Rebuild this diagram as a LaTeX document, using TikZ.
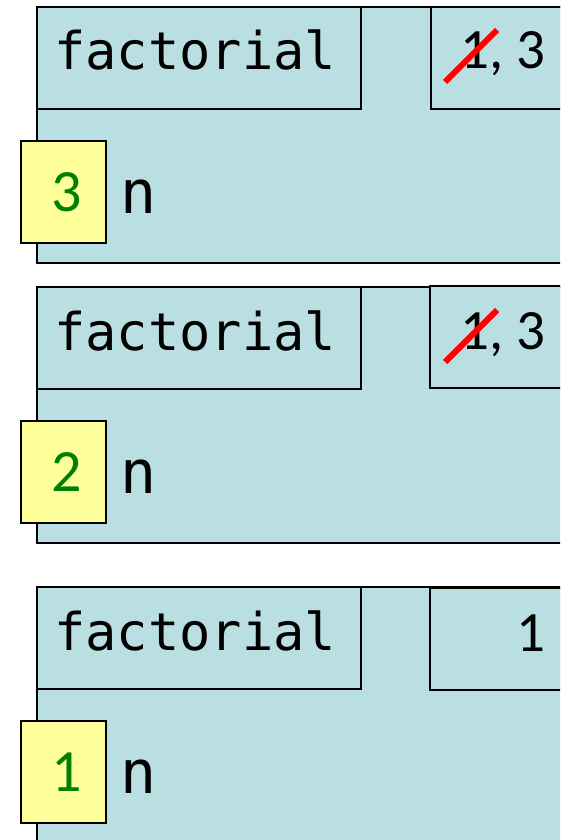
\documentclass[tikz,border=0pt]{standalone}
\usepackage{fontspec}
\newfontfamily\codefont{DejaVu Sans Mono}
\newfontfamily\numfont{Carlito}
\definecolor{framebg}{RGB}{186,223,227}
\definecolor{argbg}{RGB}{255,255,153}
\definecolor{argfg}{RGB}{0,128,0}
\tikzset{
  boxline/.style={draw=black, line width=1.8pt, rectangle, inner sep=0pt, anchor=north west},
  stackframe/.style={boxline, fill=framebg, minimum width=600pt, minimum height=256pt},
  namebox/.style={boxline, fill=framebg, minimum width=324pt, minimum height=102pt},
  valbox/.style={boxline, fill=framebg, minimum width=200pt, minimum height=102pt},
  argbox/.style={boxline, fill=argbg, minimum width=85pt, minimum height=102pt},
  fname/.style={inner sep=0pt, anchor=base west, font=\codefont\fontsize{52}{52}\selectfont},
  varname/.style={inner sep=0pt, anchor=base west, font=\codefont\fontsize{60}{60}\selectfont},
  argval/.style={inner sep=0pt, anchor=base, text=argfg, font=\numfont\fontsize{60}{60}\selectfont},
  retval/.style={inner sep=0pt, anchor=base east, font=\numfont\fontsize{57}{57}\selectfont},
  strike/.style={draw=red, line width=6pt},
}
\begin{document}
\begin{tikzpicture}[x=1pt, y=-1pt]
\useasboundingbox (0,0) rectangle (560,840);
\clip (0,0) rectangle (560,840);

% frame for factorial(3)
\node[stackframe] (fr1) at (36,6) {};
\node[namebox] (nm1) at (36,6) {};
\node[fname] (nt1) at (54,70) {factorial};
\node[valbox] (vb1) at (430,6) {};
\node[retval] (rv1) at (546,69) {1, 3};
\coordinate (s1a) at (445,82);
\coordinate (s1b) at (497,30);
\draw[strike] (s1a) -- (s1b);
\node[argbox] (ab1) at (20,140) {};
\node[argval] (av1) at (67,211) {3};
\node[varname] (vn1) at (120,213) {n};

% frame for factorial(2)
\node[stackframe] (fr2) at (36,286) {};
\node[namebox] (nm2) at (36,286) {};
\node[fname] (nt2) at (54,350) {factorial};
\node[valbox] (vb2) at (429,285) {};
\node[retval] (rv2) at (546,349) {1, 3};
\coordinate (s2a) at (445,362);
\coordinate (s2b) at (497,310);
\draw[strike] (s2a) -- (s2b);
\node[argbox] (ab2) at (20,420) {};
\node[argval] (av2) at (67,491) {2};
\node[varname] (vn2) at (120,493) {n};

% frame for factorial(1)
\node[stackframe] (fr3) at (36,586) {};
\node[namebox] (nm3) at (36,586) {};
\node[fname] (nt3) at (54,650) {factorial};
\node[valbox] (vb3) at (429,587) {};
\node[retval] (rv3) at (546,651) {1};
\node[argbox] (ab3) at (20,720) {};
\node[argval] (av3) at (67,791) {1};
\node[varname] (vn3) at (120,793) {n};
\end{tikzpicture}
\end{document}
